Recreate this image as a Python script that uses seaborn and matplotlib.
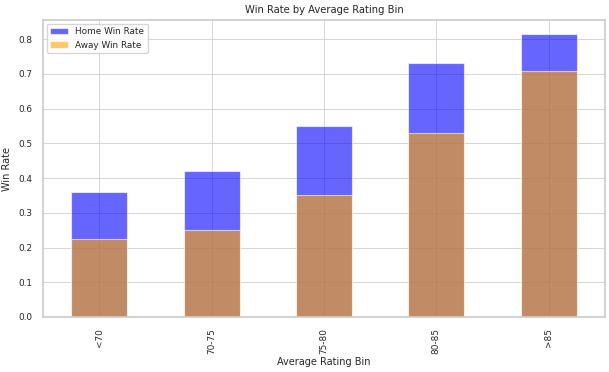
import matplotlib
matplotlib.use("Agg")
import matplotlib.pyplot as plt
import seaborn as sns
import pandas as pd

bins = ["<70", "70-75", "75-80", "80-85", ">85"]
home_win = [0.36, 0.42, 0.55, 0.73, 0.815]
away_win = [0.224, 0.25, 0.351, 0.53, 0.708]

sns.set_theme(style="whitegrid")
plt.rcParams['font.family'] = ['DejaVu Sans']

df = pd.DataFrame({"bin": bins, "home": home_win, "away": away_win})

fig, ax = plt.subplots(figsize=(6.09, 3.72), dpi=100)
sns.barplot(data=df, x="bin", y="home", color="blue", alpha=0.6, width=0.5,
            label="Home Win Rate", ax=ax, saturation=1, edgecolor="white", linewidth=0.8)
sns.barplot(data=df, x="bin", y="away", color="orange", alpha=0.6, width=0.5,
            label="Away Win Rate", ax=ax, saturation=1, edgecolor="white", linewidth=0.8)

ax.set_xlim(-0.5, 4.5)
ax.set_ylim(0, 0.855)
ax.grid(True, axis="both", color="#d5d5d5", linewidth=0.7)
ax.set_axisbelow(True)
ax.set_title("Win Rate by Average Rating Bin", fontsize=7.2, pad=5)
ax.set_xlabel("Average Rating Bin", fontsize=7, labelpad=2)
ax.set_ylabel("Win Rate", fontsize=7, labelpad=4)
ax.tick_params(axis="both", labelsize=6.4, pad=2)
plt.setp(ax.get_xticklabels(), rotation=90)
ax.legend(loc="upper left", fontsize=6.4, handlelength=2.0, borderaxespad=0.4)
for s in ax.spines.values():
    s.set_color("#cccccc")

fig.subplots_adjust(left=0.071, right=0.993, top=0.946, bottom=0.148)
fig.savefig("out.png", dpi=100)
